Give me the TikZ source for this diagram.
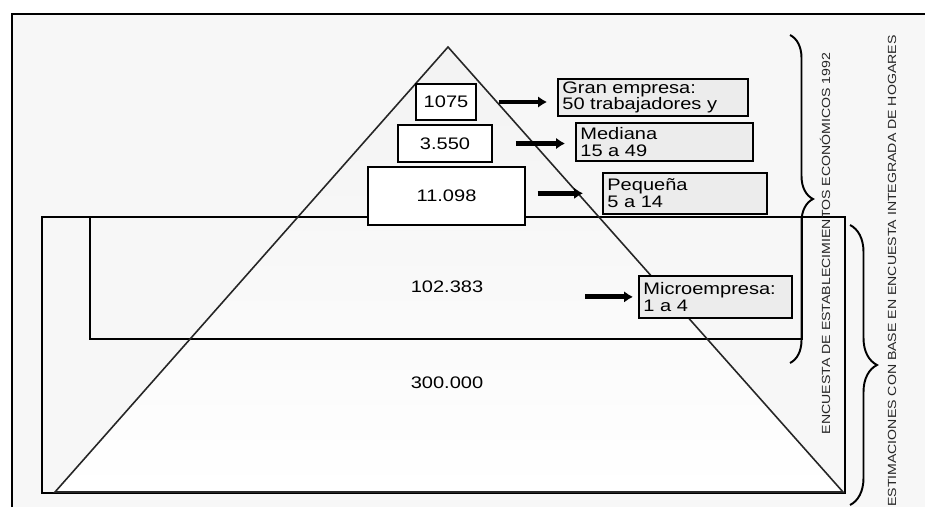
\documentclass[tikz,border=0pt]{standalone}
\usepackage{fontspec}
\setmainfont{Liberation Sans}[FakeStretch=1.2]
\usetikzlibrary{arrows.meta,positioning,decorations.pathreplacing}

\begin{document}
\begin{tikzpicture}[x=0.02cm, y=-0.02cm, font=\fontsize{9.5}{9.5}\selectfont,
  valbox/.style={draw, line width=1.1pt, fill=white, inner sep=0pt},
  labelbox/.style={draw, line width=1.1pt, fill=gray!15, align=left, anchor=north west,
    inner xsep=2.5pt, inner ysep=1pt},
  bigarrow/.style={-{Latex[length=5pt,width=6.5pt]}, line width=2.8pt},
  sidebrace/.style={decorate, decoration={brace, amplitude=#1}, line width=1.1pt},
  sidetext/.style={rotate=90, font=\fontsize{6.7}{7}\selectfont, text=black!85, inner sep=0pt}]
  \useasboundingbox (0,0) rectangle (925,507);

  % frame
  \fill[gray!6] (12,14) rectangle (925,507);
  \draw[line width=1.1pt] (12,507) -- (12,14) -- (925,14);

  % pyramid
  \coordinate (apex) at (448,47);
  \coordinate (bl) at (55,492);
  \coordinate (br) at (843,492);
  \fill[top color=gray!10, bottom color=white] (apex) -- (bl) -- (br) -- cycle;
  \draw[line width=1.1pt] (42,217) rectangle (845,493);
  \draw[line width=1.1pt] (90,217) rectangle (802,339);
  \draw[line width=0.9pt, black!85] (apex) -- (bl) -- (br) -- cycle;

  % counts
  \node[valbox, minimum width=34pt, minimum height=20.4pt] (v1) at (446,102) {1075};
  \node[valbox, minimum width=53.3pt, minimum height=21pt] (v2) at (445,143.5) {3.550};
  \node[valbox, minimum width=89pt, minimum height=32.9pt] (v3) at (446.5,196) {11.098};
  \node (n102) at (447,287) {102.383};
  \node (n300) at (447,383) {300.000};

  % size classes
  \node[labelbox, text width=103pt, minimum height=21pt] (gran) at (557,78)
    {Gran empresa:\\50 trabajadores y};
  \node[labelbox, text width=96pt, minimum height=21.5pt] (med) at (575,122)
    {Mediana\\15 a 49};
  \node[labelbox, text width=88.5pt, minimum height=23.2pt] (peq) at (602,172)
    {Pequeña\\5 a 14};
  \node[labelbox, text width=82.3pt, minimum height=23.8pt] (mic) at (638,275)
    {Microempresa:\\1 a 4};

  \draw[bigarrow, shorten <=0.44cm, shorten >=0.2cm] (v1.east) -- (v1.east -| gran.west);
  \draw[bigarrow, shorten <=0.46cm, shorten >=0.2cm] (v2.east) -- (v2.east -| med.west);
  \draw[bigarrow, shorten <=0.24cm, shorten >=0.38cm] (v3.east |- peq.west) -- (peq.west);
  \draw[bigarrow, shorten <=1.92cm, shorten >=0.1cm] (n102.east |- mic.west) -- (mic.west);

  % braces and sources
  \coordinate (b1top) at (790,35);
  \coordinate (b1bot) at (790,363);
  \coordinate (b2top) at (850,225);
  \coordinate (b2bot) at (850,505);
  \draw[sidebrace=0.46cm] (b1top) -- (b1bot);
  \draw[sidebrace=0.54cm] (b2top) -- (b2bot);
  \node[sidetext] (est) at (825,243.5) {ENCUESTA DE ESTABLECIMIENTOS ECONÓMICOS 1992};
  \node[sidetext, anchor=east] (hog) at (892,35) {ESTIMACIONES CON BASE EN ENCUESTA INTEGRADA DE HOGARES};
\end{tikzpicture}
\end{document}
